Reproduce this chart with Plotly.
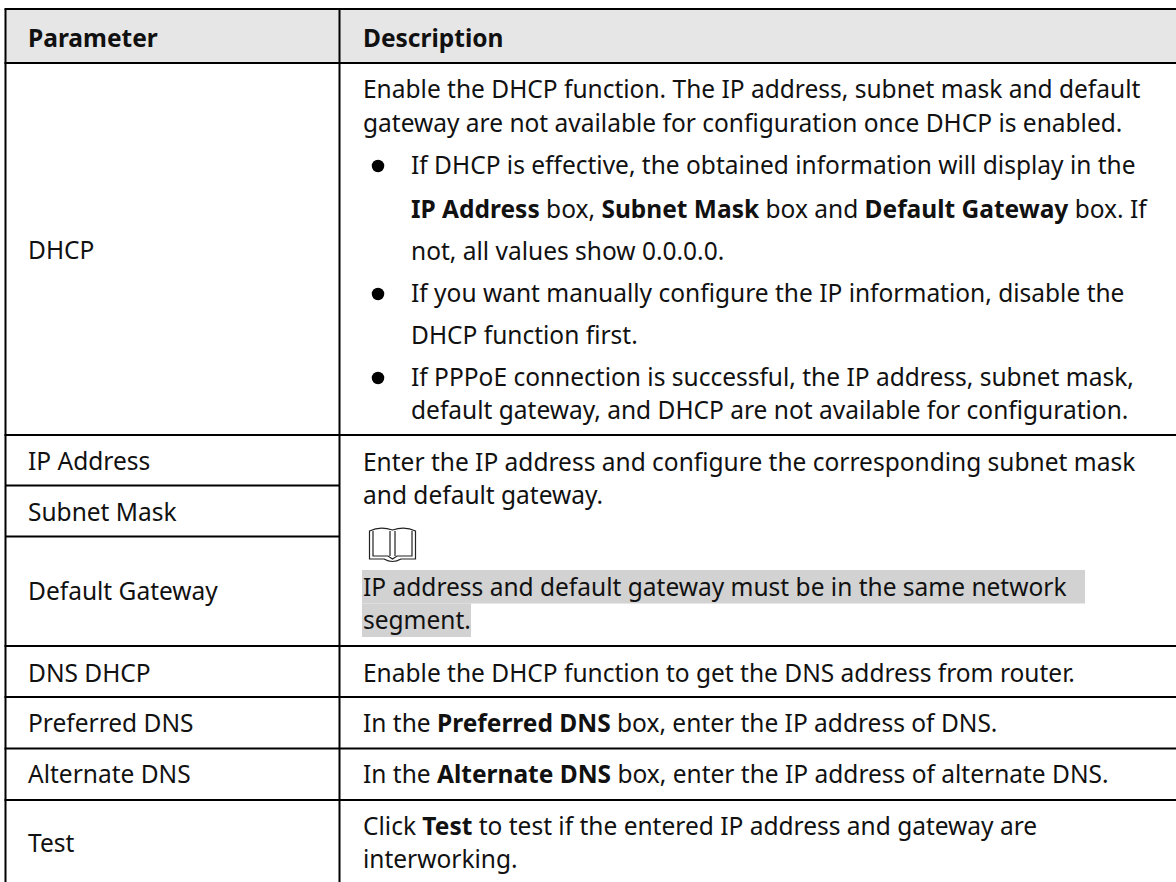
import plotly.graph_objects as go

FONT = "Noto Sans"
SIZE = 24.5
INK = "#111111"

col_lines = [5.5, 339.5]
row_lines_full = [9, 63, 435, 646, 697, 748.5, 800]
row_lines_left = [485.5, 536.5]

param_labels = ["DHCP", "IP Address", "Subnet Mask", "Default Gateway", "DNS DHCP",
                "Preferred DNS", "Alternate DNS", "Test"]
param_y = [249, 460, 511, 590, 672, 722, 773, 842]

desc_lines = [
    "Enable the DHCP function. The IP address, subnet mask and default",
    "gateway are not available for configuration once DHCP is enabled.",
    "If DHCP is effective, the obtained information will display in the",
    "<b>IP Address</b> box, <b>Subnet Mask</b> box and <b>Default Gateway</b> box. If",
    "not, all values show 0.0.0.0.",
    "If you want manually configure the IP information, disable the",
    "DHCP function first.",
    "If PPPoE connection is successful, the IP address, subnet mask,",
    "default gateway, and DHCP are not available for configuration.",
    "Enter the IP address and configure the corresponding subnet mask",
    "and default gateway.",
    "IP address and default gateway must be in the same network",
    "segment.",
    "Enable the DHCP function to get the DNS address from router.",
    "In the <b>Preferred DNS</b> box, enter the IP address of DNS.",
    "In the <b>Alternate DNS</b> box, enter the IP address of alternate DNS.",
    "Click <b>Test</b> to test if the entered IP address and gateway are",
    "interworking.",
]
desc_y = [88, 122, 164, 208, 250, 292, 334, 376, 409, 461, 494, 586, 619, 672, 722, 773, 825, 858]
desc_x = [361, 361, 408.5, 408.5, 408.5, 408.5, 408.5, 408.5, 408.5, 361, 361, 361, 361, 361, 361, 361, 361, 361]
bullet_y = [166, 294, 378]

fig = go.Figure()

shapes = [
    dict(type="rect", x0=col_lines[0], x1=1176, y0=row_lines_full[0], y1=row_lines_full[1],
         fillcolor="#e6e6e6", line_width=0, layer="below"),
    dict(type="rect", x0=362, x1=1085, y0=570, y1=603.5, fillcolor="#d2d2d2", line_width=0, layer="below"),
    dict(type="rect", x0=362, x1=471, y0=603.5, y1=637, fillcolor="#d2d2d2", line_width=0, layer="below"),
]
for y in row_lines_full:
    shapes.append(dict(type="line", x0=col_lines[0] - 1, x1=1176, y0=y, y1=y,
                       line=dict(color="#000000", width=2)))
for y in row_lines_left:
    shapes.append(dict(type="line", x0=col_lines[0], x1=col_lines[1], y0=y, y1=y,
                       line=dict(color="#000000", width=2)))
for x in col_lines:
    shapes.append(dict(type="line", x0=x, x1=x, y0=row_lines_full[0], y1=882,
                       line=dict(color="#000000", width=2)))
# note (book) icon
icon = ("M 369.5 559 L 369.5 531 Q 380 526 392.5 530 Q 405 526 415.5 531 L 415.5 559 L 401 559 "
        "Q 392.5 564 384 559 Z "
        "M 373 531 L 373 556 L 388 556 L 392.5 559 L 397 556 L 412 556 L 412 531 "
        "M 390 531 L 390 556 M 395 531 L 395 556")
shapes.append(dict(type="path", path=icon, line=dict(color="#222222", width=1.2)))

annotations = []
def text(x, y, s, size=SIZE):
    annotations.append(dict(x=x, y=y, text=s, showarrow=False, xanchor="left", yanchor="middle",
                            xref="x", yref="y", align="left",
                            font=dict(family=FONT, size=size, color=INK)))

text(25.5, 37, "<b>Parameter</b>")
text(361, 37, "<b>Description</b>")
for s, y in zip(param_labels, param_y):
    text(25.5, y, s)
for s, x, y in zip(desc_lines, desc_x, desc_y):
    text(x, y, s)

fig.add_trace(go.Scatter(x=[378] * len(bullet_y), y=bullet_y, mode="markers",
                         marker=dict(color="#000000", size=12.5), hoverinfo="skip", showlegend=False))

fig.update_layout(
    width=1176, height=882, margin=dict(l=0, r=0, t=0, b=0),
    paper_bgcolor="#ffffff", plot_bgcolor="#ffffff", showlegend=False,
    xaxis=dict(range=[0, 1176], visible=False, fixedrange=True),
    yaxis=dict(range=[882, 0], visible=False, fixedrange=True),
    shapes=shapes, annotations=annotations,
)
fig.write_html("out.html", config={"displayModeBar": False},
               post_script="document.body.style.margin='0';document.documentElement.style.overflow='hidden';")
